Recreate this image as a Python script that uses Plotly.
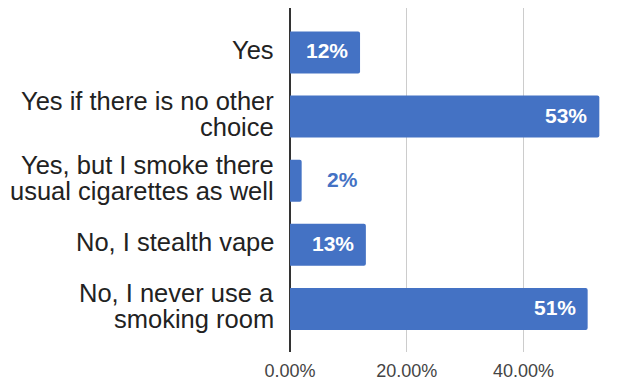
import plotly.graph_objects as go

# Survey answers (top to bottom) and their shares
categories = [
    "Yes",
    "Yes if there is no other<br>choice",
    "Yes, but I smoke there<br>usual cigarettes as well",
    "No, I stealth vape",
    "No, I never use a<br>smoking room",
]
shares = [0.12, 0.53, 0.02, 0.13, 0.51]
value_labels = ["12%", "53%", "2%", "13%", "51%"]
x_ticks = [0, 0.2, 0.4]
x_tick_text = ["0.00%", "20.00%", "40.00%"]

BAR_COLOR = "#4472c4"
FONT = "Liberation Sans, Arial, sans-serif"

y_pos = list(range(len(categories)))

fig = go.Figure(
    go.Bar(
        x=shares,
        y=y_pos,
        orientation="h",
        width=0.655,
        marker=dict(color=BAR_COLOR, cornerradius=2, line=dict(width=0)),
        hoverinfo="skip",
    )
)

annotations = []

# Category labels, one annotation per line for tight line spacing
line_gap = 26
for i, label in enumerate(categories):
    lines = label.split("<br>")
    n = len(lines)
    for j, line in enumerate(lines):
        offset = ((n - 1) / 2 - j) * line_gap
        annotations.append(dict(
            text=line, xref="paper", yref="y", x=0, y=i,
            xanchor="right", yanchor="middle", showarrow=False,
            xshift=-14, yshift=offset + 2.5,
            font=dict(family=FONT, size=25.5, color="#222222"),
        ))

# Value labels: inside the bar end, or just outside for short bars
for i, (v, t) in enumerate(zip(shares, value_labels)):
    inside = v >= 0.08
    annotations.append(dict(
        text=f"<b>{t}</b>", xref="x", yref="y", x=v, y=i,
        xanchor="right" if inside else "left", yanchor="middle",
        showarrow=False, xshift=-10 if inside else 23, yshift=1.5,
        font=dict(family=FONT, size=21, color="white" if inside else BAR_COLOR),
    ))

fig.update_layout(
    width=639,
    height=381,
    margin=dict(l=290, r=28, t=8, b=29, autoexpand=False),
    paper_bgcolor="white",
    plot_bgcolor="white",
    showlegend=False,
    annotations=annotations,
    xaxis=dict(
        range=[0, 0.55],
        tickvals=x_ticks,
        ticktext=x_tick_text,
        showgrid=True,
        gridcolor="#cccccc",
        gridwidth=1,
        zeroline=True,
        zerolinecolor="#333333",
        zerolinewidth=1.5,
        showline=False,
        ticks="",
        ticklabelstandoff=6,
        automargin=False,
        tickfont=dict(family=FONT, size=18, color="#444444"),
        fixedrange=True,
    ),
    yaxis=dict(
        range=[4.672, -0.694],
        showticklabels=False,
        showgrid=False,
        zeroline=False,
        showline=False,
        ticks="",
        automargin=False,
        fixedrange=True,
    ),
)

fig.write_html("out.html")
